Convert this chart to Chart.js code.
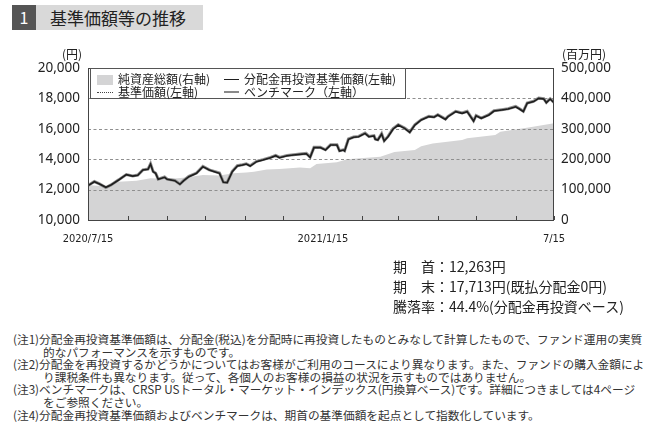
<!DOCTYPE html>
<html><head><meta charset="utf-8">
<script src="https://cdn.jsdelivr.net/npm/chart.js@4.4.1/dist/chart.umd.min.js"></script>
<style>
html,body{margin:0;padding:0;background:#fff;width:648px;height:435px;overflow:hidden;font-family:"Noto Sans CJK JP","Noto Sans",sans-serif;color:#222;}
#wrap{position:absolute;left:0;top:0;width:648px;height:260px;}
.abs{position:absolute;white-space:nowrap;}
#legend{position:absolute;left:90px;top:68px;width:316px;height:31px;border:1px solid #555;background:#fff;box-sizing:border-box;font-size:12px;color:#222;}
#legend .it{position:absolute;height:14px;line-height:14px;}
#summary{position:absolute;left:393px;top:256px;font-size:14px;line-height:20px;color:#222;}
#notes{position:absolute;left:13px;top:333px;font-size:11.7px;line-height:12.6px;color:#333;}
#notes div{white-space:nowrap;}
</style></head>
<body>
<div class="abs" style="left:12px;top:5px;width:24px;height:25px;background:#555;color:#fff;font-size:16px;line-height:25px;text-align:center;">1</div>
<div class="abs" style="left:36px;top:5px;width:167px;height:25px;background:#d9d9d9;"></div>
<div class="abs" style="left:50px;top:5px;height:25px;line-height:25px;font-size:17px;color:#222;">基準価額等の推移</div>
<div id="wrap"><canvas id="c" width="648" height="260"></canvas></div>
<div class="abs" style="left:62px;top:45px;font-size:12px;color:#222;">(円)</div>
<div class="abs" style="left:562px;top:45px;font-size:12px;color:#222;">(百万円)</div>
<div id="legend"></div>
<div id="summary">
<div>期　首：12,263円</div>
<div>期　末：17,713円(既払分配金0円)</div>
<div>騰落率：44.4%(分配金再投資ベース)</div>
</div>
<div id="notes">
<div>(注1)分配金再投資基準価額は、分配金(税込)を分配時に再投資したものとみなして計算したもので、ファンド運用の実質</div>
<div style="padding-left:30px">的なパフォーマンスを示すものです。</div>
<div>(注2)分配金を再投資するかどうかについてはお客様がご利用のコースにより異なります。また、ファンドの購入金額によ</div>
<div style="padding-left:30px">り課税条件も異なります。従って、各個人のお客様の損益の状況を示すものではありません。</div>
<div>(注3)ベンチマークは、CRSP USトータル・マーケット・インデックス(円換算ベース)です。詳細につきましては4ページ</div>
<div style="padding-left:30px">をご参照ください。</div>
<div>(注4)分配金再投資基準価額およびベンチマークは、期首の基準価額を起点として指数化しています。</div>
</div>
<script>
// days since 2020/7/15
const navDays = [0,5,9,14,18,24,30,35,39,43,47,49,51,53,55,60,62,68,72,75,79,85,90,95,99,103,106,109,113,117,121,124,127,132,137,143,147,150,156,161,166,171,174,177,182,186,190,195,197,200,201,204,208,212,217,220,224,225,227,230,232,235,239,243,248,252,256,261,267,271,274,280,282,288,293,297,302,304,308,314,318,324,329,335,338,341,344,349,353,357,359,362,365];
const navValues = [12263,12520,12370,12150,12300,12630,12980,12890,12940,13290,13335,13680,13180,13070,12680,12810,12680,12590,12350,12590,12850,13070,13510,13290,13180,13070,12480,12460,13180,13550,13620,13680,13550,13840,13950,14100,14230,14100,14230,14280,14320,14360,14120,14760,14760,14600,14930,14930,14540,14600,14540,15310,15440,15480,15700,15480,15530,15310,15260,15660,15200,15480,15990,16250,16030,15770,16250,16580,16800,16760,16910,16620,16800,17130,17020,17130,16510,16860,16690,16910,17170,17240,17300,17450,17300,17130,17680,17790,18000,17960,17720,17960,17713];
const benchValues = [12263,12530,12380,12140,12310,12640,12990,12900,12960,13300,13350,13700,13200,13080,12690,12830,12690,12600,12360,12600,12870,13090,13530,13300,13200,13090,12490,12470,13200,13570,13640,13700,13570,13860,13970,14120,14250,14120,14250,14300,14340,14380,14140,14780,14780,14620,14950,14950,14560,14620,14560,15330,15460,15500,15720,15500,15550,15330,15280,15680,15220,15500,16010,16270,16050,15790,16270,16600,16820,16780,16930,16640,16820,17150,17040,17150,16530,16880,16710,16930,17190,17260,17320,17470,17320,17150,17700,17810,18020,17980,17740,17980,17740];
// 基準価額: no distribution paid (既払分配金0円), so it equals the reinvested NAV
const baseValues = navValues.slice();
const assetDays = [0,14,24,38,49,63,77,90,103,114,124,130,140,150,166,174,179,195,203,213,229,240,256,261,270,293,297,319,323,345,365];
const assetValues = [115000,110000,126000,129000,137000,135000,140000,148000,146000,154000,156000,159000,166000,168000,173000,170000,184000,190000,200000,203000,208000,224000,230000,243000,252000,263000,269000,280000,290000,304000,318000];
const tickDays = [0,31,62,92,123,153,184,215,243,274,304,335,365];
const tickLabels = {0:'2020/7/15',184:'2021/1/15',365:'7/15'};
const leftTicks = [10000,12000,14000,16000,18000,20000];
const rightTicks = [0,100000,200000,300000,400000,500000];
const seriesLabels = ['分配金再投資基準価額(左軸)','基準価額(左軸)','ベンチマーク（左軸）','純資産総額(右軸)'];

const pts = (xs, ys) => xs.map((x,i)=>({x:x,y:ys[i]}));
const fmt = v => v.toLocaleString('en-US');

const gridOver = {
  id:'gridOver',
  beforeDatasetDraw(chart, args){
    // dashed grid lines drawn above the net-asset area but below the lines
    if (args.index !== 2) return;
    const {ctx, chartArea:a, scales} = chart;
    ctx.save();
    ctx.strokeStyle = '#8f8f8f'; ctx.lineWidth = 1; ctx.setLineDash([3,2.5]);
    ctx.beginPath();
    leftTicks.slice(1,-1).forEach(v=>{
      const y = Math.round(scales.y.getPixelForValue(v))+0.5;
      ctx.moveTo(a.left, y); ctx.lineTo(a.right, y);
    });
    ctx.stroke();
    ctx.restore();
  },
  afterDatasetsDraw(chart){
    const {ctx, chartArea:a, scales} = chart;
    ctx.save();
    ctx.strokeStyle = '#444'; ctx.lineWidth = 1;
    ctx.strokeRect(a.left+0.5, a.top+0.5, a.right-a.left-1, a.bottom-a.top);
    ctx.beginPath();
    tickDays.forEach(d=>{
      const x = Math.round(scales.x.getPixelForValue(d))+0.5;
      ctx.moveTo(x, a.bottom); ctx.lineTo(x, a.bottom-4);
    });
    ctx.stroke();
    ctx.restore();
  }
};

const chart = new Chart(document.getElementById('c'), {
  type:'line',
  data:{datasets:[
    {label:seriesLabels[0], data:pts(navDays,navValues), yAxisID:'y', borderColor:'#1e1e1e', borderWidth:1.6, pointRadius:0, fill:false, tension:0, order:0},
    {label:seriesLabels[1], data:pts(navDays,baseValues), yAxisID:'y', borderColor:'#555', borderWidth:1, borderDash:[1.5,1.5], pointRadius:0, fill:false, tension:0, order:1},
    {label:seriesLabels[2], data:pts(navDays,benchValues), yAxisID:'y', borderColor:'#8f8f8f', borderWidth:3, pointRadius:0, fill:false, tension:0, order:2},
    {label:seriesLabels[3], data:pts(assetDays,assetValues), yAxisID:'y2', borderWidth:0, borderColor:'rgba(0,0,0,0)', backgroundColor:'#d4d4d5', pointRadius:0, fill:'origin', tension:0, order:3}
  ]},
  options:{
    responsive:false, animation:false, devicePixelRatio:1,
    layout:{padding:{top:68,left:0,right:0,bottom:0}},
    plugins:{legend:{display:false}, tooltip:{enabled:false}},
    scales:{
      x:{type:'linear', min:0, max:365,
        afterBuildTicks(s){ s.ticks = tickDays.map(v=>({value:v})); },
        afterFit(s){ s.height = 40; },
        grid:{display:false, drawTicks:false}, border:{display:false},
        ticks:{autoSkip:false, maxRotation:0, padding:13, color:'#222',
          font:{family:"'Liberation Sans Narrow','DejaVu Sans Condensed','Noto Sans'", size:11},
          callback:v=>tickLabels[v]||''}},
      y:{position:'left', min:10000, max:20000,
        afterBuildTicks(s){ s.ticks = leftTicks.map(v=>({value:v})); },
        afterFit(s){ s.width = 88; },
        grid:{display:false, drawTicks:false}, border:{display:false},
        ticks:{padding:8, color:'#222', font:{family:"'Noto Sans'", size:13.5}, callback:v=>fmt(v)}},
      y2:{position:'right', min:0, max:500000,
        afterBuildTicks(s){ s.ticks = rightTicks.map(v=>({value:v})); },
        afterFit(s){ s.width = 94; },
        grid:{display:false, drawTicks:false}, border:{display:false},
        ticks:{padding:7, color:'#222', font:{family:"'Noto Sans'", size:13.5}, callback:v=>fmt(v)}}
    }
  },
  plugins:[gridOver]
});

// HTML legend from dataset labels
const lg = document.getElementById('legend');
const legendItems = [
  {ds:3, left:6, top:3, sw:'<span style="display:inline-block;width:16px;height:10px;background:#d4d4d5;vertical-align:-1px;margin-right:5px"></span>'},
  {ds:0, left:133, top:3, sw:'<span style="display:inline-block;width:15px;height:0;border-top:1.3px solid #1e1e1e;vertical-align:4px;margin-right:5px"></span>'},
  {ds:1, left:6, top:16, sw:'<span style="display:inline-block;width:16px;height:0;border-top:1px dotted #444;vertical-align:4px;margin-right:5px"></span>'},
  {ds:2, left:133, top:16, sw:'<span style="display:inline-block;width:15px;height:0;border-top:2px solid #8a8a8a;vertical-align:4px;margin-right:5px"></span>'}
];
legendItems.forEach(it=>{
  const d = document.createElement('div');
  d.className='it'; d.style.left=it.left+'px'; d.style.top=it.top+'px';
  d.innerHTML = it.sw + chart.data.datasets[it.ds].label;
  lg.appendChild(d);
});
</script>
</body></html>
